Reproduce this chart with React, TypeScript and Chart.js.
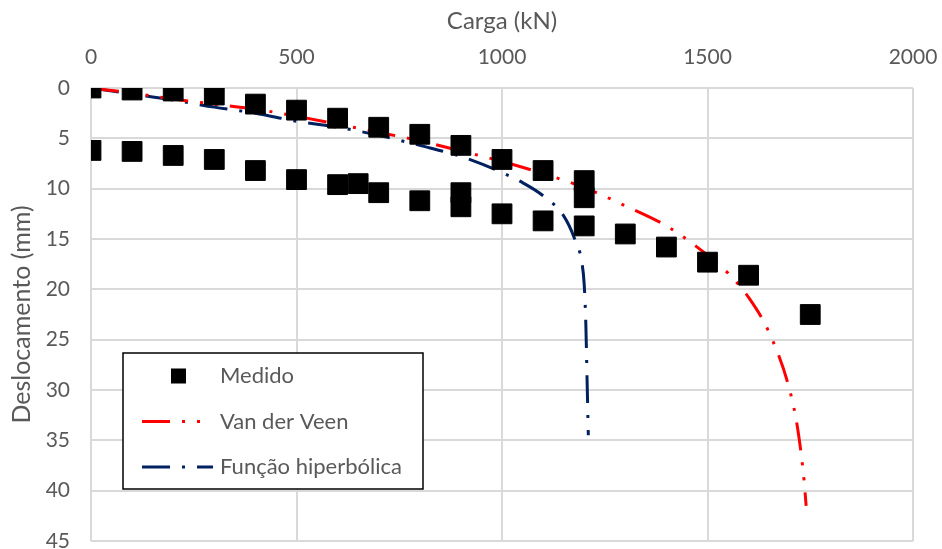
import React, { useEffect, useRef } from "react";
import { Chart, registerables } from "chart.js";

Chart.register(...registerables);

// Medido (measured) – load (kN) and displacement (mm)
const medidoCarga = [0, 100, 200, 300, 400, 500, 600, 700, 800, 900, 1000, 1100, 1200, 1200,
  0, 100, 200, 300, 400, 500, 600, 650, 700, 800, 900, 900, 1000, 1100, 1200,
  1300, 1400, 1500, 1600, 1750];
const medidoDesloc = [0, 0.2, 0.3, 0.7, 1.6, 2.2, 3.0, 3.9, 4.6, 5.7, 7.1, 8.2, 9.2, 10.9,
  6.2, 6.3, 6.7, 7.1, 8.2, 9.1, 9.6, 9.5, 10.4, 11.2, 10.4, 11.8, 12.5, 13.2, 13.7,
  14.5, 15.8, 17.3, 18.6, 22.5];

// Van der Veen curve
const vdvCarga = [0, 100, 200, 300, 400, 500, 600, 700, 800, 900, 1000, 1100, 1200, 1300, 1400,
  1500, 1550, 1600, 1650, 1700, 1720, 1735, 1740];
const vdvDesloc = [0, 0.5, 1.1, 1.6, 2.1, 2.8, 3.6, 4.4, 5.25, 6.25, 7.3, 8.5, 9.9, 11.7, 13.7,
  16.6, 18.4, 20.8, 24.3, 30.0, 34.0, 39.0, 41.5];

// Função hiperbólica curve
const hipCarga = [0, 100, 200, 300, 400, 500, 600, 700, 800, 900, 1000, 1050, 1100, 1150, 1175,
  1195, 1200, 1204, 1207, 1210];
const hipDesloc = [0, 0.6, 1.2, 1.9, 2.5, 3.3, 3.9, 4.7, 5.7, 6.8, 8.4, 9.4, 10.7, 12.7, 14.8,
  17.5, 19.5, 23.5, 29.0, 34.5];

const xTicks = [0, 500, 1000, 1500, 2000];
const yTicks = [0, 5, 10, 15, 20, 25, 30, 35, 40, 45];

const labels = ["Medido", "Van der Veen", "Função hiperbólica"];
const xTitle = "Carga (kN)";
const yTitle = "Deslocamento (mm)";

const FONT = "Lato";
const TEXT = "#595959";
const GRID = "#d9d9d9";

const toPts = (xs: number[], ys: number[]) => xs.map((x, i) => ({ x, y: ys[i] }));

const boxLegend = {
  id: "boxLegend",
  afterDraw(chart: any) {
    const { ctx, chartArea } = chart;
    const x0 = chartArea.left + 32;
    const y0 = chartArea.top + 265;
    const w = 300;
    const h = 136;
    ctx.save();
    ctx.fillStyle = "#ffffff";
    ctx.fillRect(x0, y0, w, h);
    ctx.strokeStyle = "#000000";
    ctx.lineWidth = 1.5;
    ctx.strokeRect(x0, y0, w, h);
    chart.data.datasets.forEach((ds: any, i: number) => {
      const cy = y0 + 23 + i * 45.5;
      if (!ds.showLine) {
        ctx.fillStyle = ds.backgroundColor;
        ctx.fillRect(x0 + 48, cy - 7.5, 15, 15);
      } else {
        ctx.beginPath();
        ctx.setLineDash(ds.borderDash || []);
        ctx.strokeStyle = ds.borderColor;
        ctx.lineWidth = ds.borderWidth;
        ctx.moveTo(x0 + 19, cy);
        ctx.lineTo(x0 + (i === 1 ? 82 : 90), cy);
        ctx.stroke();
        ctx.setLineDash([]);
      }
      ctx.fillStyle = TEXT;
      ctx.font = `22px ${FONT}`;
      ctx.textBaseline = "middle";
      ctx.textAlign = "left";
      ctx.fillText(ds.label, x0 + 97, cy);
    });
    ctx.restore();
  },
};

export default function App() {
  const ref = useRef<HTMLCanvasElement>(null);
  useEffect(() => {
    if (!ref.current) return;
    const chart = new Chart(ref.current, {
      type: "scatter",
      data: {
        datasets: [
          {
            label: labels[0],
            data: toPts(medidoCarga, medidoDesloc),
            showLine: false,
            pointStyle: "rect",
            pointRadius: 14,
            pointBorderWidth: 1,
            backgroundColor: "#000000",
            borderColor: "#000000",
            order: 0,
          },
          {
            label: labels[1],
            data: toPts(vdvCarga, vdvDesloc),
            showLine: true,
            pointRadius: 0,
            borderColor: "#ff0000",
            backgroundColor: "#ff0000",
            borderWidth: 3,
            borderDash: [28, 12, 3, 12, 3, 12],
            cubicInterpolationMode: "monotone",
            order: 1,
          },
          {
            label: labels[2],
            data: toPts(hipCarga, hipDesloc),
            showLine: true,
            pointRadius: 0,
            borderColor: "#002060",
            backgroundColor: "#002060",
            borderWidth: 3,
            borderDash: [28, 12, 3, 12],
            cubicInterpolationMode: "monotone",
            order: 2,
          },
        ] as any,
      },
      options: {
        animation: false,
        responsive: false,
        maintainAspectRatio: false,
        layout: { padding: { left: 0, top: 0, right: 29, bottom: 0 } },
        plugins: { legend: { display: false }, tooltip: { enabled: false } },
        scales: {
          x: {
            type: "linear",
            position: "top",
            min: 0,
            max: 2000,
            afterBuildTicks: (s: any) => { s.ticks = xTicks.map((v) => ({ value: v })); },
            afterFit: (s: any) => {
              s.height = 88;
              s.paddingLeft = 0;
              s.paddingRight = 0;
            },
            ticks: {
              color: TEXT,
              font: { family: FONT, size: 21 },
              padding: 18,
              maxRotation: 0,
              callback: (v: any) => String(v),
            },
            grid: { color: GRID, lineWidth: 2, drawTicks: false },
            border: { display: false },
            title: {
              display: true,
              text: xTitle,
              color: TEXT,
              font: { family: FONT, size: 24 },
              padding: { top: 7, bottom: 0 },
            },
          },
          y: {
            type: "linear",
            reverse: true,
            min: 0,
            max: 45,
            afterBuildTicks: (s: any) => { s.ticks = yTicks.map((v) => ({ value: v })); },
            afterFit: (s: any) => {
              s.width = 91;
              s.paddingTop = 0;
              s.paddingBottom = 0;
            },
            ticks: {
              color: TEXT,
              font: { family: FONT, size: 21 },
              padding: 21,
              callback: (v: any) => String(v),
            },
            grid: { color: GRID, lineWidth: 2, drawTicks: false },
            border: { display: false },
            title: {
              display: true,
              text: yTitle,
              color: TEXT,
              font: { family: FONT, size: 25 },
              padding: { top: 7, bottom: 0 },
            },
          },
        },
      } as any,
      plugins: [boxLegend],
    });
    return () => chart.destroy();
  }, []);
  return (
    <div
      style={{
        position: "fixed",
        left: 0,
        top: 0,
        width: 942,
        height: 549,
        overflow: "hidden",
        background: "#fff",
      }}
    >
      <canvas ref={ref} width={942} height={556} style={{ display: "block" }} />
    </div>
  );
}
